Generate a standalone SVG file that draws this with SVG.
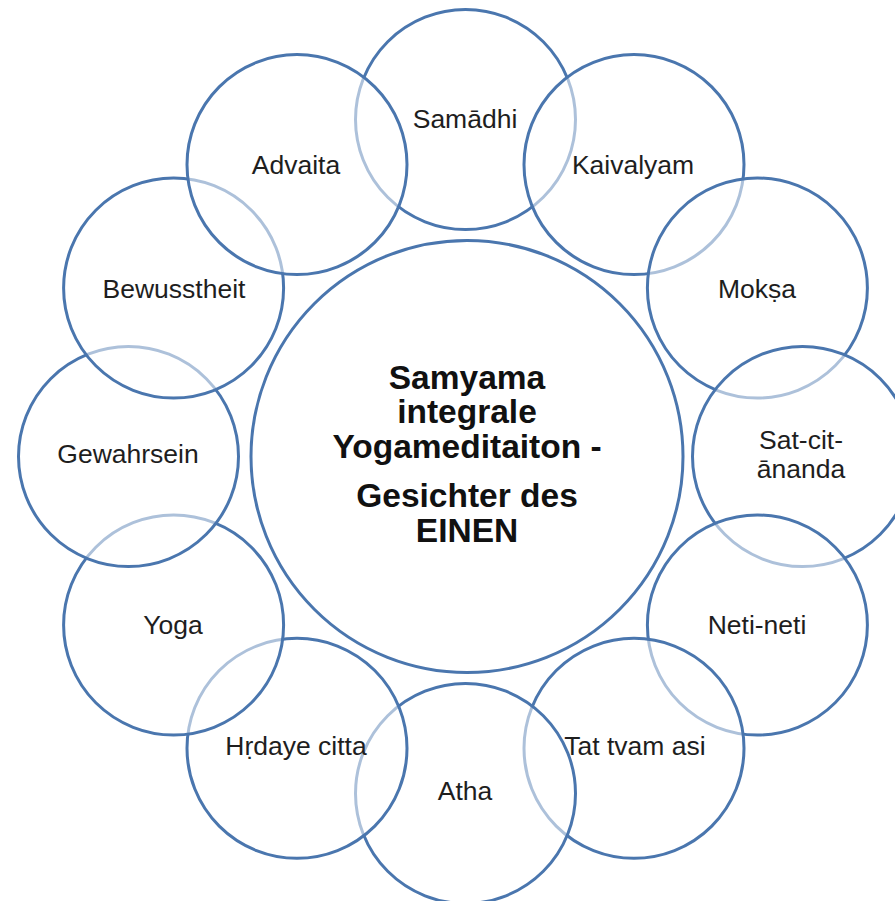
<svg xmlns="http://www.w3.org/2000/svg" width="895" height="901" viewBox="0 0 895 901">
<style>
.c{fill:#ffffff;fill-opacity:0.55;stroke:#4a76ae;stroke-width:3}
.m{fill:#ffffff;stroke:#4a76ae;stroke-width:3}
.t{font-family:"Liberation Sans",Arial,sans-serif;font-size:26.5px;fill:#1e1e1e;text-anchor:middle}
.h{font-family:"Liberation Sans",Arial,sans-serif;font-size:33.5px;font-weight:bold;fill:#111;text-anchor:middle}
</style>
<rect width="895" height="901" fill="#ffffff"/>
<g id="connectors"></g>
<g id="center">
<circle class="m" cx="467" cy="456.5" r="216"/>
<text class="h" x="467" y="389">Samyama</text>
<text class="h" x="467" y="423">integrale</text>
<text class="h" x="467" y="458">Yogameditaiton -</text>
<text class="h" x="467" y="507">Gesichter des</text>
<text class="h" x="467" y="542">EINEN</text>
</g>
<g id="samadhi"><circle class="c" cx="465.5" cy="119.5" r="110"/><text class="t" x="465" y="128">Samādhi</text></g>
<g id="kaivalyam"><circle class="c" cx="634" cy="164.6" r="110"/><text class="t" x="633" y="174">Kaivalyam</text></g>
<g id="moksa"><circle class="c" cx="757.4" cy="288" r="110"/><text class="t" x="757" y="298">Mokṣa</text></g>
<g id="satcitananda"><circle class="c" cx="802.5" cy="456.5" r="110"/><text class="t" x="801" y="449">Sat-cit-</text><text class="t" x="801" y="478">ānanda</text></g>
<g id="netineti"><circle class="c" cx="757.4" cy="625" r="110"/><text class="t" x="757" y="634">Neti-neti</text></g>
<g id="tattvamasi"><circle class="c" cx="634" cy="748.3" r="110"/><text class="t" x="635" y="755">Tat tvam asi</text></g>
<g id="atha"><circle class="c" cx="465.5" cy="793.5" r="110"/><text class="t" x="465" y="800">Atha</text></g>
<g id="hrdayecitta"><circle class="c" cx="297" cy="748.3" r="110"/><text class="t" x="296" y="755">Hṛdaye citta</text></g>
<g id="yoga"><circle class="c" cx="173.6" cy="625" r="110"/><text class="t" x="173" y="634">Yoga</text></g>
<g id="gewahrsein"><circle class="c" cx="128.5" cy="456.5" r="110"/><text class="t" x="128" y="463">Gewahrsein</text></g>
<g id="bewusstheit"><circle class="c" cx="173.6" cy="288" r="110"/><text class="t" x="174" y="298">Bewusstheit</text></g>
<g id="advaita"><circle class="c" cx="297" cy="164.6" r="110"/><text class="t" x="296" y="174">Advaita</text></g>
</svg>
